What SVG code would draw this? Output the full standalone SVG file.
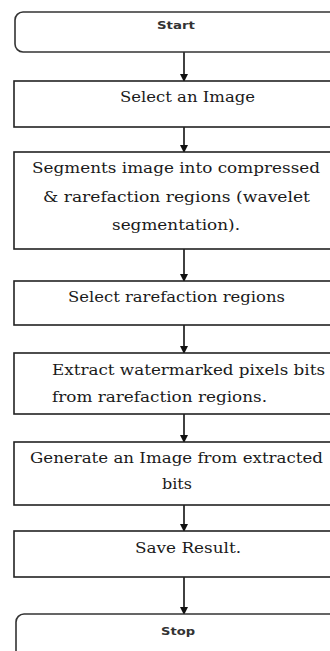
<svg xmlns="http://www.w3.org/2000/svg" width="330" height="651" viewBox="0 0 330 651">
<style>
.box{fill:#fff;stroke:#222;stroke-width:1.6}
.term{fill:#fff;stroke:#333;stroke-width:1.6}
.t{font-family:"DejaVu Serif","Liberation Serif",serif;font-size:15px;fill:#1a1a1a;text-anchor:middle}
.tl{font-family:"DejaVu Serif","Liberation Serif",serif;font-size:15px;fill:#1a1a1a}
.s{font-family:"DejaVu Sans","Liberation Sans",sans-serif;font-size:10.5px;font-weight:bold;fill:#333;text-anchor:middle}
.c{stroke:#111;stroke-width:1.6;fill:none}
</style>
<defs>
<marker id="ah" markerWidth="8" markerHeight="8" refX="7" refY="4" orient="auto" markerUnits="userSpaceOnUse">
<path d="M0,0 L8,4 L0,8 Z" fill="#111"/>
</marker>
</defs>
<rect width="330" height="651" fill="#fff"/>
<g id="connectors">
<line class="c" x1="184" y1="52" x2="184" y2="81" marker-end="url(#ah)"/>
<line class="c" x1="184" y1="127" x2="184" y2="152" marker-end="url(#ah)"/>
<line class="c" x1="184" y1="249" x2="184" y2="281" marker-end="url(#ah)"/>
<line class="c" x1="184" y1="325" x2="184" y2="353" marker-end="url(#ah)"/>
<line class="c" x1="184" y1="414" x2="184" y2="442" marker-end="url(#ah)"/>
<line class="c" x1="184" y1="505" x2="184" y2="531" marker-end="url(#ah)"/>
<line class="c" x1="184" y1="577" x2="184" y2="614" marker-end="url(#ah)"/>
</g>
<g id="start">
<rect class="term" x="15" y="12" width="340" height="40" rx="8"/>
<text class="s" x="176" y="29" textLength="38" lengthAdjust="spacingAndGlyphs">Start</text>
</g>
<g id="select-image">
<rect class="box" x="14" y="81" width="340" height="46"/>
<text class="t" x="187.5" y="102" textLength="135" lengthAdjust="spacingAndGlyphs">Select an Image</text>
</g>
<g id="segment">
<rect class="box" x="14" y="152" width="340" height="97"/>
<text class="t" x="176" y="173" textLength="288" lengthAdjust="spacingAndGlyphs">Segments image into compressed</text>
<text class="t" x="176.5" y="202" textLength="267" lengthAdjust="spacingAndGlyphs">&amp; rarefaction regions (wavelet</text>
<text class="t" x="176" y="230" textLength="128" lengthAdjust="spacingAndGlyphs">segmentation).</text>
</g>
<g id="select-rarefaction">
<rect class="box" x="14" y="281" width="340" height="44"/>
<text class="t" x="176.5" y="302" textLength="217" lengthAdjust="spacingAndGlyphs">Select rarefaction regions</text>
</g>
<g id="extract">
<rect class="box" x="14" y="353" width="340" height="61"/>
<text class="tl" x="52" y="375" textLength="273" lengthAdjust="spacingAndGlyphs">Extract watermarked pixels bits</text>
<text class="tl" x="52" y="402" textLength="215" lengthAdjust="spacingAndGlyphs">from rarefaction regions.</text>
</g>
<g id="generate">
<rect class="box" x="14" y="442" width="340" height="63"/>
<text class="t" x="176.5" y="463" textLength="293" lengthAdjust="spacingAndGlyphs">Generate an Image from extracted</text>
<text class="t" x="177" y="489" textLength="30" lengthAdjust="spacingAndGlyphs">bits</text>
</g>
<g id="save">
<rect class="box" x="14" y="531" width="340" height="46"/>
<text class="t" x="188" y="553" textLength="106" lengthAdjust="spacingAndGlyphs">Save Result.</text>
</g>
<g id="stop">
<rect class="term" x="16" y="614" width="340" height="60" rx="8"/>
<text class="s" x="178" y="635" textLength="34" lengthAdjust="spacingAndGlyphs">Stop</text>
</g>
</svg>
